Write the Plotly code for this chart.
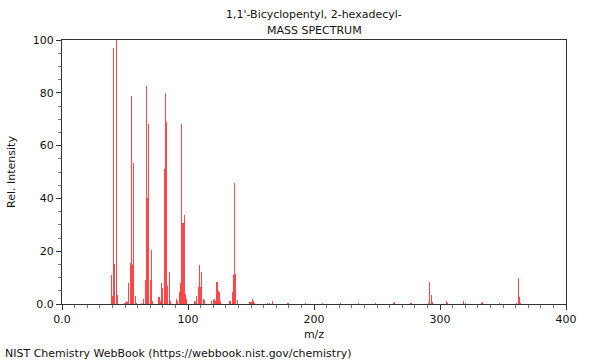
import plotly.graph_objects as go

title_line1 = "1,1'-Bicyclopentyl, 2-hexadecyl-"
title_line2 = "MASS SPECTRUM"
x_title = "m/z"
y_title = "Rel. Intensity"
footer = "NIST Chemistry WebBook (https://webbook.nist.gov/chemistry)"

mz = [39, 40, 41, 42, 43, 44, 50, 51, 52, 53, 54, 55, 56, 57, 58, 59, 63,
      65, 66, 67, 68, 69, 70, 71, 72, 77, 78, 79, 80, 81, 82, 83, 84, 85, 86,
      91, 92, 93, 94, 95, 96, 97, 98, 99, 105, 106, 107, 108, 109, 110, 111,
      112, 113, 119, 120, 121, 122, 123, 124, 125, 126, 133, 134, 135, 136,
      137, 138, 139, 149, 150, 151, 152, 153, 163, 165, 167, 179, 180, 193,
      207, 221, 235, 249, 263, 264, 277, 291, 292, 293, 294, 305, 306, 319,
      320, 333, 334, 347, 361, 362, 363, 364]
intensity = [11, 3, 97, 15, 100, 3.4, 0.5, 1, 0.7, 8, 15.4, 78.8, 14.8, 53.5,
             3, 0.5, 0.3,
             2, 9, 82.6, 40, 68, 9, 20.4, 1, 2.8, 1, 7.8, 6, 51, 79.8, 68.8,
             7, 12, 1,
             1.8, 1, 4.7, 8, 68, 30.5, 33.7, 3.7, 2, 1, 0.8, 3.2, 6.5, 14.8,
             6.6, 12.3,
             2, 1.5, 1, 1.5, 2, 1.2, 8.5, 5, 4.7, 1, 1, 1, 4.7, 11,
             45.7, 11.5, 1.5, 0.7, 0.8, 1.8, 1.3, 0.5, 0.4, 0.5, 1.1, 0.4,
             0.4, 0.3,
             0.4, 0.4, 0.3, 0.3, 0.4, 0.6, 0.4, 0.5, 8.2, 3.4, 0.7, 1.3, 0.5,
             1,
             0.3, 0.4, 0.8, 0.3, 0.4, 9.8, 2.8, 0.4]

x_tickvals = [0, 100, 200, 300, 400]
x_ticktext = ["0.0", "100", "200", "300", "400"]
y_tickvals = [0, 20, 40, 60, 80, 100]
y_ticktext = ["0.0", "20", "40", "60", "80", "100"]

FONT = "DejaVu Sans"
AXIS = "#333333"
TXT = "#111111"
FS = 11

W, H = 600, 360
L, R, T, B = 62, 34, 40, 56
PH = H - T - B
PW = W - L - R

fig = go.Figure()
fig.add_trace(go.Bar(
    x=mz, y=intensity, width=0.85,
    marker=dict(color="rgba(255,0,0,0.72)", line=dict(width=0)),
    hoverinfo="x+y",
))

fig.update_layout(
    width=W, height=H,
    margin=dict(l=L, r=R, t=T, b=B, pad=0, autoexpand=False),
    paper_bgcolor="white", plot_bgcolor="white",
    showlegend=False,
    bargap=0,
    font=dict(family=FONT, size=FS, color=TXT),
    xaxis=dict(
        range=[0, 400], showgrid=False, zeroline=False, automargin=False,
        showline=True, linecolor=AXIS, linewidth=1, mirror=True,
        tickmode="array", tickvals=x_tickvals, ticktext=x_ticktext,
        ticks="outside", ticklen=5, tickcolor=AXIS, tickwidth=1,
        minor=dict(dtick=10, ticks="outside", ticklen=3, tickcolor="#777777", tickwidth=1, showgrid=False),
        tickfont=dict(family=FONT, size=FS, color=TXT),
        title=dict(text=x_title, font=dict(family=FONT, size=FS), standoff=5),
    ),
    yaxis=dict(
        range=[0, 100], showgrid=False, zeroline=False, automargin=False,
        showline=True, linecolor=AXIS, linewidth=1, mirror=True,
        tickmode="array", tickvals=y_tickvals, ticktext=y_ticktext,
        ticks="outside", ticklen=5, tickcolor=AXIS, tickwidth=1,
        minor=dict(dtick=5, ticks="outside", ticklen=3, tickcolor="#777777", tickwidth=1, showgrid=False),
        tickfont=dict(family=FONT, size=FS, color=TXT),
        title=dict(text=y_title, font=dict(family=FONT, size=FS), standoff=14),
    ),
    annotations=[
        dict(text=title_line1, xref="paper", yref="paper", x=(314 - L) / PW, y=(PH + T - 14) / PH,
             xanchor="center", yanchor="middle", showarrow=False,
             font=dict(family=FONT, size=FS, color=TXT)),
        dict(text=title_line2, xref="paper", yref="paper", x=(314 - L) / PW, y=(PH + T - 30) / PH,
             xanchor="center", yanchor="middle", showarrow=False,
             font=dict(family=FONT, size=FS, color=TXT)),
        dict(text=footer, xref="paper", yref="paper", x=(3 - L) / PW, y=(PH + T - 353) / PH,
             xanchor="left", yanchor="middle", showarrow=False,
             font=dict(family=FONT, size=FS, color=TXT)),
    ],
)

fig.write_html("out.html", config={"staticPlot": True, "displayModeBar": False},
               post_script="document.body.style.margin='0px';")
